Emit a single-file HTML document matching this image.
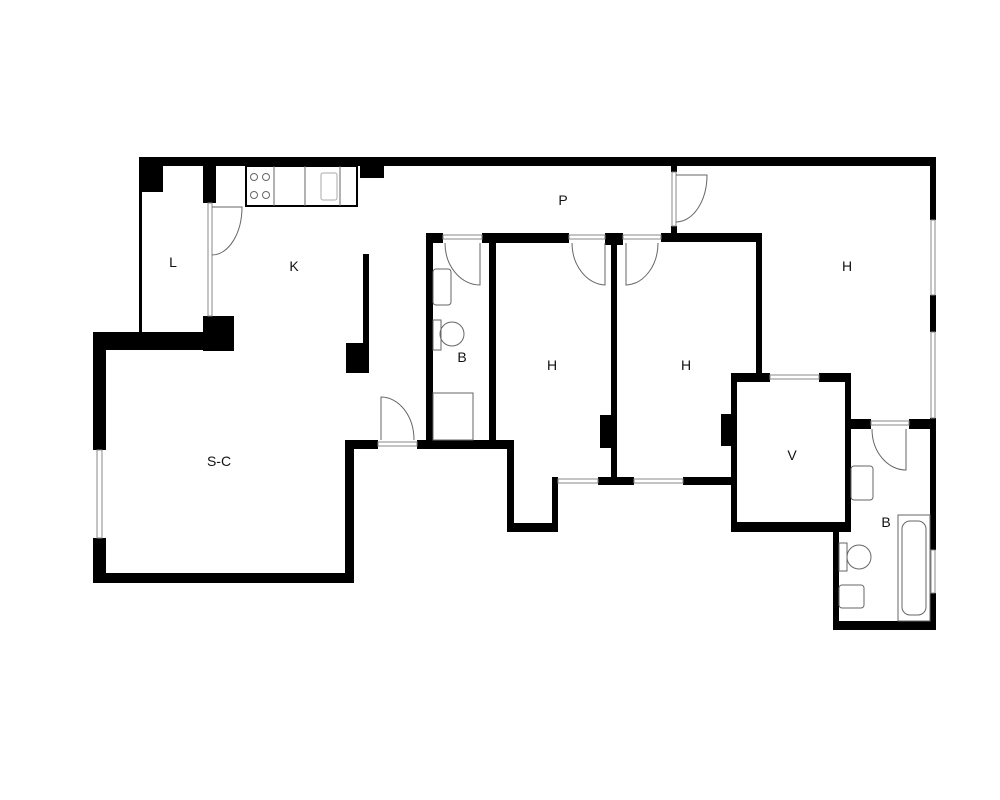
<!DOCTYPE html>
<html><head><meta charset="utf-8"><style>
html,body{margin:0;padding:0;background:#fff;}
svg{display:block;}
text{font-family:"Liberation Sans",sans-serif;font-size:14px;fill:#111;text-anchor:middle;}
</style></head><body>
<svg width="1000" height="800" viewBox="0 0 1000 800" xmlns="http://www.w3.org/2000/svg">
<rect width="1000" height="800" fill="#fff"/>
<g fill="#000">
<!-- top wall -->
<rect x="139" y="157" width="797" height="9"/>
<rect x="139" y="157" width="24" height="35"/>
<rect x="139" y="157" width="3" height="176"/>
<rect x="203" y="157" width="13" height="46"/>
<rect x="360" y="166" width="24" height="12"/>
<rect x="203" y="316" width="31" height="35"/>
<rect x="93" y="332" width="141" height="18"/>
<!-- SC -->
<rect x="93" y="332" width="13" height="118"/>
<rect x="93" y="538" width="13" height="45"/>
<rect x="93" y="573" width="260" height="10"/>
<rect x="345" y="440" width="9" height="143"/>
<rect x="345" y="440" width="33" height="9"/>
<rect x="417" y="440" width="97" height="9"/>
<!-- K partition -->
<rect x="363" y="254" width="6" height="119"/>
<rect x="346" y="343" width="23" height="30"/>
<!-- B1 -->
<rect x="426" y="233" width="7" height="210"/>
<rect x="426" y="233" width="17" height="10"/>
<rect x="482" y="233" width="87" height="10"/>
<rect x="489" y="233" width="7" height="210"/>
<!-- H1 -->
<rect x="507" y="440" width="7" height="92"/>
<rect x="507" y="523" width="51" height="9"/>
<rect x="552" y="477" width="6" height="55"/>
<rect x="598" y="477" width="36" height="8"/>
<rect x="683" y="477" width="54" height="8"/>
<rect x="600" y="415" width="11" height="33"/>
<rect x="605" y="233" width="18" height="12"/>
<rect x="611" y="241" width="6" height="243"/>
<!-- H2 -->
<rect x="661" y="233" width="101" height="9"/>
<rect x="756" y="233" width="6" height="142"/>
<rect x="721" y="414" width="16" height="32"/>
<!-- P door posts -->
<rect x="671" y="157" width="6" height="15"/>
<rect x="671" y="226" width="6" height="15"/>
<!-- V -->
<rect x="731" y="373" width="39" height="9"/>
<rect x="819" y="373" width="32" height="9"/>
<rect x="731" y="373" width="6" height="159"/>
<rect x="845" y="373" width="6" height="159"/>
<rect x="731" y="522" width="120" height="10"/>
<!-- right wall -->
<rect x="930" y="157" width="6" height="63"/>
<rect x="930" y="295" width="6" height="37"/>
<rect x="930" y="418" width="6" height="132"/>
<rect x="930" y="593" width="6" height="37"/>
<!-- B2 -->
<rect x="851" y="419" width="20" height="10"/>
<rect x="909" y="419" width="27" height="10"/>
<rect x="833" y="528" width="6" height="102"/>
<rect x="833" y="621" width="103" height="9"/>
</g>
<g fill="none" stroke="#888" stroke-width="1">
<!-- windows -->
<rect x="97" y="450" width="5" height="88"/>
<rect x="931" y="220" width="4" height="75"/>
<rect x="931" y="332" width="4" height="86"/>
<rect x="931" y="550" width="4" height="43"/>
<rect x="770" y="375" width="49" height="4"/>
<rect x="558" y="479" width="40" height="4"/>
<rect x="634" y="479" width="49" height="4"/>
<rect x="378" y="442" width="39" height="4"/>
<rect x="443" y="235" width="39" height="4"/>
<rect x="569" y="235" width="36" height="4"/>
<rect x="623" y="235" width="38" height="4"/>
<rect x="871" y="421" width="38" height="4"/>
<rect x="208" y="203" width="4" height="113"/>
<rect x="672" y="172" width="4" height="54"/>
</g>
<g fill="none" stroke="#666" stroke-width="1">
<!-- doors -->
<path d="M212 207 L242 207 A30 48 0 0 1 212 255"/>
<path d="M381 440 L381 397 A33 43 0 0 1 414 440"/>
<path d="M480 243 L480 285 A35 42 0 0 1 445 243"/>
<path d="M605 243 L605 285 A35 42 0 0 1 572 243"/>
<path d="M626 243 L626 285 A33 42 0 0 0 658 243"/>
<path d="M676 175 L707 175 A31 47 0 0 1 676 222"/>
<path d="M906 429 L906 470 A34 41 0 0 1 872 429"/>
<!-- kitchen -->
<rect x="246" y="166" width="111" height="40" stroke="#000" stroke-width="2"/>
<line x1="274" y1="166" x2="274" y2="206"/>
<line x1="305" y1="166" x2="305" y2="206"/>
<line x1="340" y1="166" x2="340" y2="206"/>
<circle cx="254" cy="177" r="3.5"/><circle cx="266" cy="177" r="3.5"/>
<circle cx="254" cy="195" r="3.5"/><circle cx="266" cy="195" r="3.5"/>
<rect x="321" y="173" width="16" height="27" rx="2" stroke="#aaa"/>
<!-- B1 fixtures -->
<rect x="433" y="269" width="18" height="36" rx="3"/>
<rect x="433" y="320" width="8" height="30"/>
<circle cx="452" cy="334" r="12"/>
<rect x="433" y="393" width="40" height="47"/>
<!-- B2 fixtures -->
<rect x="851" y="466" width="22" height="34" rx="3"/>
<rect x="839" y="543" width="8" height="28"/>
<circle cx="859" cy="557" r="12"/>
<rect x="839" y="585" width="25" height="23" rx="3"/>
<rect x="898" y="515" width="32" height="106"/>
<rect x="902" y="521" width="24" height="94" rx="8"/>
</g>
<text x="173" y="267">L</text>
<text x="294" y="271">K</text>
<text x="219" y="466">S-C</text>
<text x="462" y="362">B</text>
<text x="563" y="205">P</text>
<text x="552" y="370">H</text>
<text x="686" y="370">H</text>
<text x="847" y="271">H</text>
<text x="792" y="460">V</text>
<text x="886" y="527">B</text>
</svg>
</body></html>
